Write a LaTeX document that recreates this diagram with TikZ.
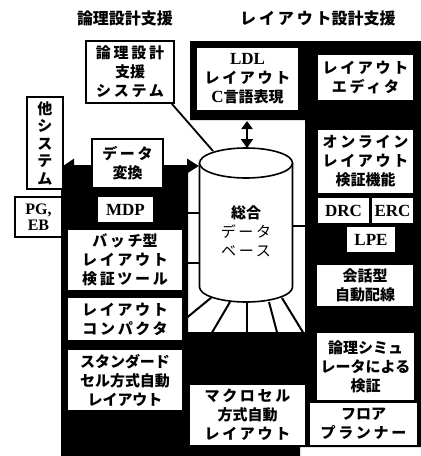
\documentclass[tikz,border=0pt]{standalone}
\usepackage{fontspec}
\newfontfamily\jp{Noto Sans CJK JP}
\newfontfamily\jpsp{Noto Sans CJK JP}[LetterSpace=18]
\newfontfamily\lat{Liberation Serif}
\usetikzlibrary{arrows.meta}
\newcommand\Ksp[1]{{\jpsp #1}}
\newcommand\Lt[1]{{\lat\fontsize{17}{17}\selectfont #1}}
\begin{document}
\begin{tikzpicture}[x=1pt,y=-1pt,
  every node/.style={inner sep=0pt, align=center, font=\jp\bfseries\fontsize{15}{19}\selectfont},
  wb/.style 2 args={fill=white, minimum width=#1pt, minimum height=#2pt},
  bb/.style 2 args={wb={#1}{#2}, draw=black, line width=1.8pt},
  latin/.style={font=\lat\bfseries\fontsize{17}{17}\selectfont},
  ray/.style={line width=2pt},
  cyl/.style={line width=1.6pt}]
% background / bounding box
\fill[white] (0,0) rectangle (421,456);
\useasboundingbox (0,0) rectangle (421,456);
% rays below the database
\draw[ray] (212,297) -- (184,320);
\draw[ray] (230,302) -- (210,336);
\draw[ray] (247,302) -- (247,336);
\draw[ray] (269,302) -- (278,336);
\draw[ray] (282,298) -- (304,334);
% black mass
\fill[black] (61,165) -- (188,165) -- (188,332) -- (305,332) -- (305,120) -- (190,120)
  -- (190,41) -- (421,41) -- (421,447) -- (300,447) -- (300,456) -- (61,456) -- cycle;
% database cylinder
\draw[cyl, fill=white] (199.5,163) -- (199.5,287) arc[start angle=180, end angle=360, x radius=46.5pt, y radius=15pt] -- (292.5,163);
\draw[cyl, fill=white] (246,163) ellipse[x radius=46.5pt, y radius=15pt];
\node (db) at (246,231) {\fontsize{15}{20}\selectfont 総合\\{\mdseries\Ksp{データ}}\\{\mdseries\Ksp{ベース}}};
% named points
\coordinate (dbtl) at (213,151);
\coordinate (dbtop) at (247,148);
\coordinate (ldlb) at (247,121);
\coordinate (convl) at (63,166);
\coordinate (convr) at (199,166);
\coordinate (tl1) at (188,213); \coordinate (tl1e) at (200,213);
\coordinate (tl2) at (186,263); \coordinate (tl2e) at (200,263);
\coordinate (tr1) at (292,226); \coordinate (tr1e) at (306,226);
% data exchange arrow
\draw[line width=3pt, {Triangle[length=11pt,width=14pt]}-{Triangle[length=12pt,width=14pt]}] (convl) -- (convr);
% ticks
\draw[cyl] (tl1) -- (tl1e);
\draw[cyl] (tl2) -- (tl2e);
\draw[cyl] (tr1) -- (tr1e);
% headers
\node[font=\jp\bfseries\fontsize{16}{16}\selectfont] (h1) at (125,18) {論理設計支援};
\node[font=\jp\bfseries\fontsize{16}{16}\selectfont] (h2) at (318,18) {\Ksp{レイアウト}設計支援};
% left-side boxes
\node[bb={88}{62}] (logic) at (130,72) {\Ksp{論理設計}\\支援\\\Ksp{システム}};
\node[bb={36}{92}, font=\jp\bfseries\fontsize{15}{17.5}\selectfont] (other) at (45,143) {他\\シ\\ス\\テ\\ム};
\node[bb={47}{40}, font=\lat\bfseries\fontsize{16}{16.5}\selectfont] (pgeb) at (38.5,217) {PG,\\EB};
\node[bb={71}{49}] (conv) at (127.5,163.5) {\Ksp{データ}\\変換};
\node[wb={55}{25}, latin] (mdp) at (125.5,209.5) {MDP};
\node[wb={114}{60}] (batch) at (125,260) {\Ksp{バッチ}型\\\Ksp{レイアウト}\\\Ksp{検証ツール}};
\node[wb={114}{42}] (compact) at (125,319) {\Ksp{レイアウト}\\\Ksp{コンパクタ}};
\node[wb={114}{60}] (std) at (125,380) {スタンダード\\セル方式自動\\レイアウト};
% centre / right boxes
\node[wb={101}{62}] (ldl) at (247.5,79) {\Lt{LDL}\\\Ksp{レイアウト}\\\Lt{C}言語表現};
\node[wb={95}{45}] (editor) at (365.5,77.5) {\Ksp{レイアウト}\\\Ksp{エディタ}};
\node[wb={95}{63}] (online) at (365.5,161.5) {\Ksp{オンライン}\\\Ksp{レイアウト}\\検証機能};
\node[wb={51}{25}, latin] (drc) at (343.5,210.5) {DRC};
\node[wb={41}{25}, latin] (erc) at (392.5,210.5) {ERC};
\node[wb={48}{25}, latin] (lpe) at (371,239.5) {LPE};
\node[wb={96}{41}] (kaiwa) at (365,285.5) {会話型\\自動配線};
\node[wb={97}{67}] (sim) at (365.5,366.5) {論理シミュ\\レータによる\\検証};
\node[wb={107}{42}] (floor) at (363.5,424) {フロア\\\Ksp{プランナー}};
\node[wb={115}{60}] (macro) at (247.5,415) {\Ksp{マクロセル}\\方式自動\\\Ksp{レイアウト}};
% connectors
\draw[line width=1.8pt] ([xshift=-3pt]logic.south east) -- (dbtl);
\draw[line width=2pt, {Triangle[length=8pt,width=11pt]}-{Triangle[length=9pt,width=12pt]}] (ldlb) -- (dbtop);
\end{tikzpicture}
\end{document}
